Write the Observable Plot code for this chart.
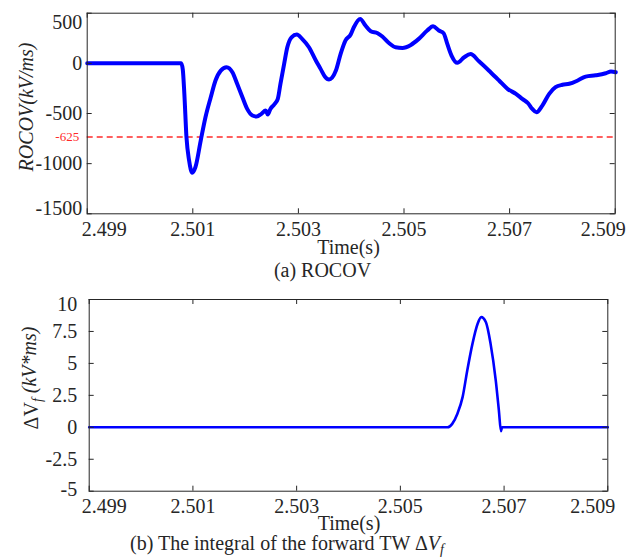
<!DOCTYPE html>
<html><head><meta charset="utf-8">
<script src="https://cdn.jsdelivr.net/npm/d3@7"></script>
<script src="https://cdn.jsdelivr.net/npm/@observablehq/plot@0.6"></script>
<style>
body{margin:0;background:#fff;}
#chart{width:642px;height:559px;background:#fff;}
#chart svg{display:block;}
#chart svg, #chart svg text, #chart svg tspan{font-family:"Liberation Serif","Times New Roman",serif !important;}
</style></head><body><div id="chart"></div>
<script>
// ---- data ----
const rocovTime = [2.49900,2.50000,2.50078,2.50081,2.50084,2.50088,2.50093,2.50099,2.50105,2.50115,2.50124,2.50134,2.50143,2.50153,2.50164,2.50175,2.50184,2.50194,2.50203,2.50213,2.50221,2.50230,2.50238,2.50242,2.50247,2.50254,2.50261,2.50266,2.50273,2.50279,2.50287,2.50297,2.50307,2.50320,2.50333,2.50342,2.50350,2.50358,2.50371,2.50380,2.50389,2.50399,2.50405,2.50417,2.50427,2.50437,2.50450,2.50459,2.50472,2.50484,2.50497,2.50513,2.50528,2.50544,2.50555,2.50566,2.50575,2.50582,2.50590,2.50601,2.50614,2.50626,2.50642,2.50664,2.50680,2.50696,2.50712,2.50724,2.50735,2.50743,2.50751,2.50762,2.50775,2.50787,2.50800,2.50813,2.50829,2.50844,2.50863,2.50882,2.50892,2.50901];
const rocovValue = [0,0,0,-60,-304,-736,-969,-1091,-1035,-770,-537,-338,-171,-72,-39,-89,-204,-338,-454,-520,-530,-503,-470,-510,-454,-411,-354,-204,-5,160,260,287,244,160,28,-55,-130,-161,-72,95,227,287,360,443,377,320,300,267,200,160,154,184,244,327,370,327,300,194,78,5,61,92,20,-89,-171,-254,-304,-354,-398,-454,-487,-421,-304,-238,-214,-204,-171,-132,-119,-99,-82,-89];
const dvTime = [2.49900,2.50591,2.50600,2.50610,2.50620,2.50629,2.50639,2.50649,2.50656,2.50665,2.50674,2.50684,2.50690,2.50694,2.50696,2.50900];
const dvValue = [0,0,0.27,1.06,2.36,4.45,6.53,8.10,8.62,8.22,6.53,3.66,1.31,-0.3,0,0];
const xTicks = [2.499,2.501,2.503,2.505,2.507,2.509];
const rocovTicks = [500,0,-500,-1000,-1500];
const dvTicks = [10,7.5,5,2.5,0,-2.5,-5];
const thresholdPos = [-735];
const thresholdLabel = "-625";

// ---- styling ----
const W = 642;
const font = "Liberation Serif";
const ink = "#262626";
const fmt = d => String(d);

function panel({data, yDomain, yTicks, h, m, lineWidth, yPad, xEndDx, yEndDy, extra}) {
  const innerH = h - m.top - m.bottom;
  const innerW = W - m.left - m.right;
  const inner = yTicks.filter(d => d !== yDomain[0] && d !== yDomain[1]);
  return Plot.plot({
    width: W, height: h,
    marginTop: m.top, marginRight: m.right, marginBottom: m.bottom, marginLeft: m.left,
    style: {fontFamily: font, fontSize: "20px", color: ink, background: "white", overflow: "visible"},
    x: {domain: [2.499, 2.509], axis: null, label: null},
    y: {domain: yDomain, axis: null, label: null},
    marks: [
      ...(extra || []),
      Plot.line(data, {x: "t", y: "v", stroke: "#0000ff", strokeWidth: lineWidth, curve: "monotone-x", strokeLinejoin: "round", strokeLinecap: "round"}),
      Plot.frame({stroke: ink, strokeWidth: 1}),
      Plot.tickX(xTicks, {x: d => d, stroke: ink, insetTop: innerH - 5}),
      Plot.tickX(xTicks, {x: d => d, stroke: ink, insetBottom: innerH - 5}),
      Plot.tickY(yTicks, {y: d => d, stroke: ink, insetRight: innerW - 5}),
      Plot.tickY(yTicks, {y: d => d, stroke: ink, insetLeft: innerW - 5}),
      Plot.axisX(xTicks.slice(1, -1), {tickSize: 0, tickPadding: 8, tickFormat: fmt, label: null, fontSize: 20}),
      Plot.axisX([xTicks[0]], {tickSize: 0, tickPadding: 8, tickFormat: fmt, label: null, fontSize: 20, dx: xEndDx[0]}),
      Plot.axisX([xTicks[xTicks.length - 1]], {tickSize: 0, tickPadding: 8, tickFormat: fmt, label: null, fontSize: 20, dx: xEndDx[1]}),
      Plot.axisY(inner, {tickSize: 0, tickPadding: yPad, tickFormat: fmt, label: null, fontSize: 20}),
      Plot.axisY([yDomain[1]], {tickSize: 0, tickPadding: yPad, tickFormat: fmt, label: null, fontSize: 20, dy: yEndDy[0]}),
      Plot.axisY([yDomain[0]], {tickSize: 0, tickPadding: yPad, tickFormat: fmt, label: null, fontSize: 20, dy: yEndDy[1]})
    ]
  });
}

const rocov = rocovTime.map((t, i) => ({t, v: rocovValue[i]}));
const dv = dvTime.map((t, i) => ({t, v: dvValue[i]}));

const m1 = {top: 12.7, right: 27.3, bottom: 285 - 213.3, left: 86.7};
const p1 = panel({
  data: rocov, yDomain: [-1500, 500], yTicks: rocovTicks, h: 285, m: m1,
  lineWidth: 4, yPad: 5, xEndDx: [17, -12], yEndDy: [9, -5],
  extra: [
    Plot.ruleY(thresholdPos, {y: d => d, stroke: "#ff2a2a", strokeWidth: 1.5, strokeDasharray: "6,4"}),
    Plot.text(thresholdPos, {y: d => d, frameAnchor: "left", text: () => thresholdLabel, textAnchor: "end", dx: -8, fill: "#ff2a2a", fontSize: 13})
  ]
});

const m2 = {top: 299 - 285, right: 642 - 607.3, bottom: 274 - (490.7 - 285), left: 88.7};
const p2 = panel({
  data: dv, yDomain: [-5, 10], yTicks: dvTicks, h: 274, m: m2,
  lineWidth: 2.6, yPad: 12, xEndDx: [15, -15], yEndDy: [5, -2]
});

const chart = document.getElementById("chart");
chart.appendChild(p1);
chart.appendChild(p2);

// ---- labels and captions ----
const s1 = d3.select(p1);
function txt(sel, x, y, anchor) {
  return sel.append("text").attr("x", x).attr("y", y).attr("text-anchor", anchor)
    .attr("fill", ink).style("font-size", "20px");
}
txt(s1, 348.5, 254, "middle").text("Time(s)");
txt(s1, 322.5, 277, "middle").text("(a) ROCOV");
txt(s1, 0, 0, "middle").attr("transform", "translate(33,107) rotate(-90)")
  .style("font-style", "italic").text("ROCOV(kV/ms)");

const s2 = d3.select(p2);
const off = 285;
txt(s2, 349, 530 - off, "middle").text("Time(s)");
const cap = txt(s2, 130, 550 - off, "start");
cap.append("tspan").text("(b) The integral of the forward TW Δ");
cap.append("tspan").style("font-style", "italic").text("V");
cap.append("tspan").style("font-style", "italic").style("font-size", "14px").attr("dy", "0.3em").text("f");

const yl = txt(s2, 0, 0, "middle").attr("transform", `translate(38,${378 - off}) rotate(-90)`);
yl.append("tspan").text("ΔV");
yl.append("tspan").style("font-style", "italic").style("font-size", "14px").attr("dy", "0.3em").text("f");
yl.append("tspan").style("font-style", "italic").attr("dy", "-0.3em").text(" (kV*ms)");
</script>
</body></html>
